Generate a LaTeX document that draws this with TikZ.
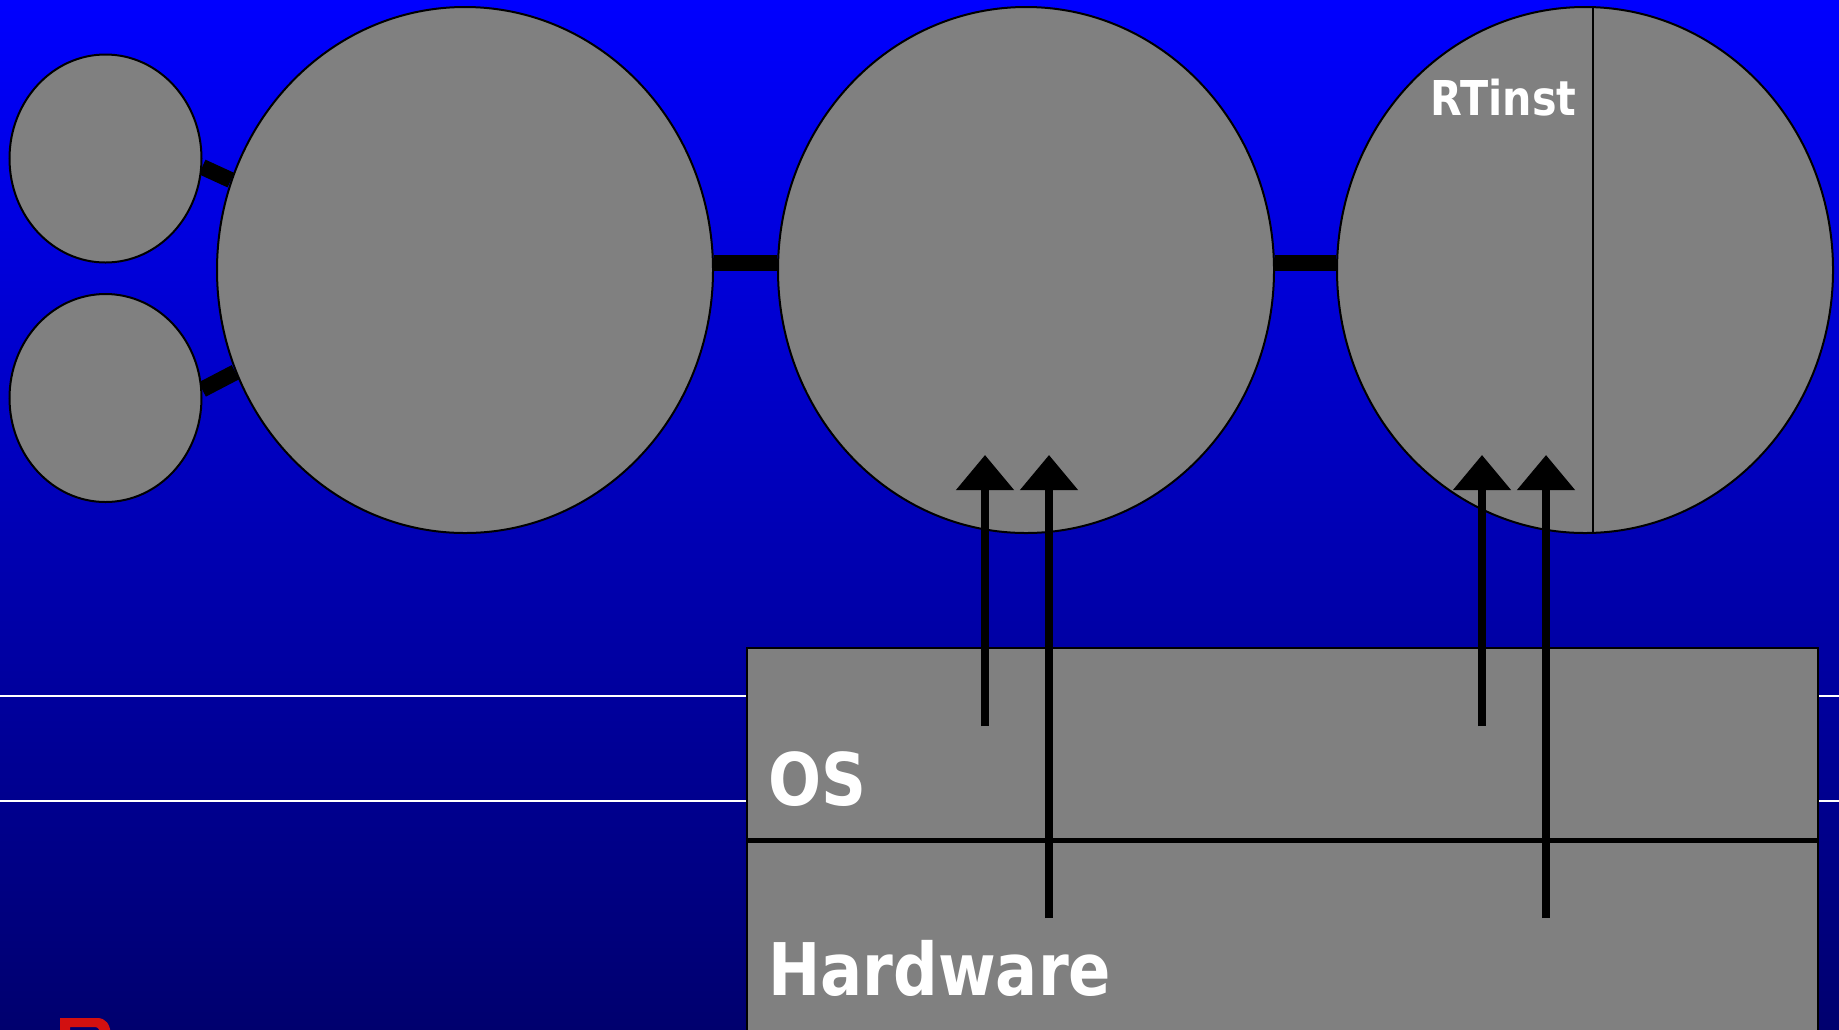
\documentclass[tikz,border=0pt]{standalone}
\usepackage{fontspec}
\newfontfamily\slidefont{DejaVu Sans}[FakeStretch=0.86]
\usetikzlibrary{shapes.geometric,arrows.meta,backgrounds}
\definecolor{bgtop}{RGB}{0,0,255}
\definecolor{bgbot}{RGB}{0,0,110}
\definecolor{blobgray}{RGB}{128,128,128}
\definecolor{fragred}{RGB}{210,16,16}
\begin{document}
\begin{tikzpicture}[x=0.5pt,y=-0.5pt,
    proc/.style={ellipse,draw=black,line width=1pt,fill=blobgray,inner sep=0pt},
    link/.style={line width=8pt,black},
    layer/.style={rectangle,draw=black,line width=1.2pt,fill=blobgray,inner sep=0pt,
      anchor=north west,minimum width=535.5pt},
    uparrow/.style={line width=4pt,-{Triangle[width=28pt,length=17.5pt]}},
    lbl/.style={text=white,inner sep=0pt,anchor=base west,font=\slidefont\bfseries}]
  \path[use as bounding box,clip] (0,0) rectangle (1839,1029);
  % processes
  \node[proc,minimum width=96pt,minimum height=104pt] (s1) at (105.5,158.5) {};
  \node[proc,minimum width=96pt,minimum height=104pt] (s2) at (105.5,398) {};
  \foreach \x/\n in {465/c1,1026/c2,1585/c3}
    {\node[proc,minimum width=248pt,minimum height=263pt] (\n) at (\x,270) {};}
  \draw[line width=1pt] ([xshift=4pt]c3.north)--([xshift=4pt]c3.south);
  \node[lbl,font=\slidefont\bfseries\fontsize{24pt}{24pt}\selectfont] (rtinst) at (1430,115) {RTinst};
  \begin{scope}[on background layer]
    \shade[top color=bgtop,bottom color=bgbot] (0,0) rectangle (1839,1029);
    \draw[white,line width=0.6pt] (0,696)--(1839,696) (0,801)--(1839,801);
    \draw[link] (s1.-5)--(c1.159);
    \draw[link] (s2.5)--(c1.204);
    \draw[link] ([yshift=3.5pt]c1.east)--([yshift=3.5pt]c2.west);
    \draw[link] ([yshift=3.5pt]c2.east)--([yshift=3.5pt]c3.west);
  \end{scope}
  % os and hardware
  \node[layer,minimum height=95.5pt] (os) at (746,647) {};
  \node[layer,minimum height=100pt] (hw) at (os.south west) {};
  \node[lbl,font=\slidefont\bfseries\fontsize{36.3pt}{36pt}\selectfont] (oslbl) at (768,805) {OS};
  \node[lbl,font=\slidefont\bfseries\fontsize{36.3pt}{36pt}\selectfont] (hwlbl) at (768,995) {Hardware};
  \foreach \x/\y [count=\i] in {985/726,1049/918,1482/726,1546/918}{
    \coordinate (tail\i) at (\x,\y);
    \coordinate (tip\i) at (\x,455);
    \draw[uparrow] (tail\i)--(tip\i);}
  % red letter cut off at the bottom
  \fill[fragred] (60,1035)--(60,1018)--(97,1018) .. controls (106,1018) and (110,1024) .. (111,1035)
    --(101,1035) .. controls (100,1030) and (98,1027) .. (95,1027)--(70,1027)--(70,1035)--cycle;
\end{tikzpicture}
\end{document}
